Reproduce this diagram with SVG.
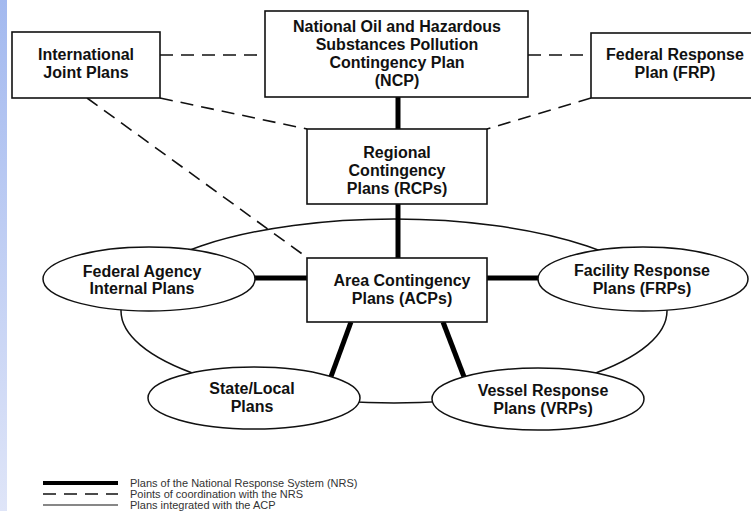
<svg xmlns="http://www.w3.org/2000/svg" width="751" height="514" viewBox="0 0 751 514">
<defs>
<linearGradient id="strip" x1="0" y1="0" x2="0" y2="1">
<stop offset="0" stop-color="#a3b9ef"/>
<stop offset="1" stop-color="#dfe5f8"/>
</linearGradient>
<style>
.box{fill:#fff;stroke:#111;stroke-width:1.6}
.ell{fill:#fff;stroke:#111;stroke-width:1.5}
.t{font-family:"Liberation Sans",Arial,sans-serif;font-weight:bold;font-size:16px;fill:#111;text-anchor:middle}
.thick{stroke:#000;stroke-width:5;fill:none}
.thin{stroke:#111;stroke-width:1.5;fill:none}
.dash{stroke:#111;stroke-width:1.6;fill:none;stroke-dasharray:13 8}
.lg{font-family:"Liberation Sans",Arial,sans-serif;font-size:11px;fill:#333}
</style>
</defs>
<rect x="0" y="0" width="751" height="514" fill="#fff"/>
<rect x="0" y="0" width="7" height="511" fill="url(#strip)"/>

<g id="connectors">
<ellipse cx="394" cy="311" rx="273" ry="92" class="thin"/>
<line x1="160" y1="55" x2="265" y2="55" class="dash"/>
<line x1="528" y1="55" x2="591" y2="55" class="dash"/>
<line x1="160" y1="98" x2="307" y2="129" class="dash"/>
<line x1="591" y1="98" x2="487" y2="129" class="dash"/>
<line x1="87" y1="98" x2="305" y2="256" class="dash"/>
<line x1="398" y1="97" x2="398" y2="129" class="thick"/>
<line x1="398" y1="204" x2="398" y2="258" class="thick"/>
<line x1="255" y1="278" x2="307" y2="278" class="thick"/>
<line x1="487" y1="278" x2="538" y2="278" class="thick"/>
<line x1="351" y1="322" x2="329" y2="382" class="thick"/>
<line x1="443" y1="322" x2="466" y2="382" class="thick"/>
</g>

<g id="intl">
<rect x="12" y="32" width="148" height="66" class="box"/>
<text class="t" x="86" y="60">International</text>
<text class="t" x="86" y="78">Joint Plans</text>
</g>

<g id="ncp">
<rect x="265" y="11" width="263" height="86" class="box"/>
<text class="t" x="397" y="32">National Oil and Hazardous</text>
<text class="t" x="397" y="50">Substances Pollution</text>
<text class="t" x="397" y="68">Contingency Plan</text>
<text class="t" x="397" y="86">(NCP)</text>
</g>

<g id="frp">
<rect x="591" y="33" width="165" height="65" class="box"/>
<text class="t" x="675" y="60">Federal Response</text>
<text class="t" x="675" y="78">Plan (FRP)</text>
</g>

<g id="rcp">
<rect x="307" y="129" width="180" height="75" class="box"/>
<text class="t" x="397" y="158">Regional</text>
<text class="t" x="397" y="176">Contingency</text>
<text class="t" x="397" y="194">Plans (RCPs)</text>
</g>

<g id="acp">
<rect x="307" y="258" width="180" height="64" class="box"/>
<text class="t" x="402" y="286">Area Contingency</text>
<text class="t" x="402" y="304">Plans (ACPs)</text>
</g>

<g id="fedagency">
<ellipse cx="149" cy="279" rx="106" ry="32" class="ell"/>
<text class="t" x="142" y="277">Federal Agency</text>
<text class="t" x="142" y="294">Internal Plans</text>
</g>

<g id="facility">
<ellipse cx="643" cy="279" rx="105" ry="32" class="ell"/>
<text class="t" x="642" y="276">Facility Response</text>
<text class="t" x="642" y="294">Plans (FRPs)</text>
</g>

<g id="statelocal">
<ellipse cx="254" cy="398" rx="106" ry="31" class="ell"/>
<text class="t" x="252" y="394">State/Local</text>
<text class="t" x="252" y="412">Plans</text>
</g>

<g id="vessel">
<ellipse cx="538" cy="399" rx="106" ry="31" class="ell"/>
<text class="t" x="543" y="396">Vessel Response</text>
<text class="t" x="543" y="414">Plans (VRPs)</text>
</g>

<g id="legend">
<line x1="43" y1="483" x2="118" y2="483" stroke="#000" stroke-width="4"/>
<line x1="43" y1="494" x2="118" y2="494" stroke="#111" stroke-width="1.6" stroke-dasharray="13 8"/>
<line x1="43" y1="505" x2="118" y2="505" stroke="#111" stroke-width="1.2"/>
<text class="lg" x="130" y="486.5">Plans of the National Response System (NRS)</text>
<text class="lg" x="130" y="497.5">Points of coordination with the NRS</text>
<text class="lg" x="130" y="508.5">Plans integrated with the ACP</text>
</g>
</svg>
